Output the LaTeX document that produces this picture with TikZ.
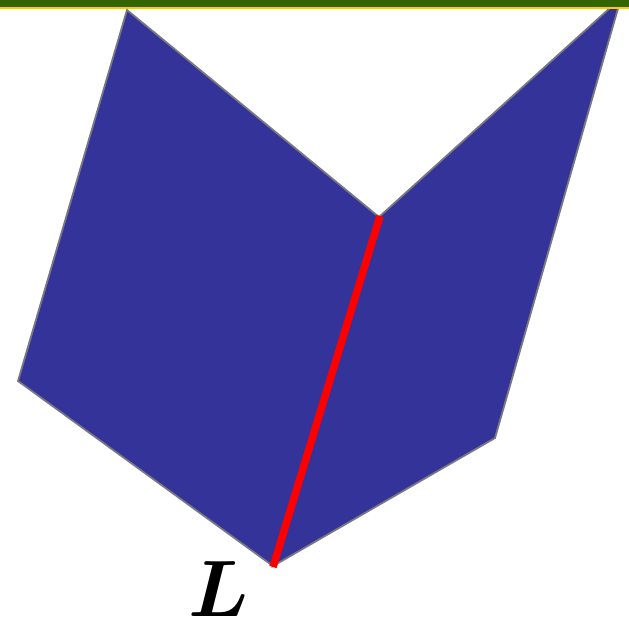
\RequirePackage{fix-cm}
\documentclass[tikz,border=0pt]{standalone}
\usepackage{amsmath}
\usepackage{tikz}
\usetikzlibrary{positioning, calc}
\definecolor{pageFill}{RGB}{51,51,153}
\definecolor{pageBrd}{RGB}{120,120,130}
\definecolor{foldRed}{RGB}{255,0,0}
\definecolor{barGreen}{RGB}{51,102,0}
\definecolor{barYellow}{RGB}{255,204,0}
\tikzset{
  PAGE/.style={fill=pageFill, draw=pageBrd, line width=1.8pt, line join=miter},
  FOLD/.style={draw=foldRed, line width=7.5pt},
  LBL/.style={font=\fontsize{80}{80}\selectfont\bfseries, inner sep=0pt},
}
\begin{document}
\begin{tikzpicture}[x=1pt, y=1pt, yscale=-1]

\useasboundingbox (0,0) rectangle (629,630);

%% corners of the two pages
\coordinate (top)   at (379,217);
\coordinate (bot)   at (273,566);
\coordinate (lTop)  at (127,10);
\coordinate (lOut)  at (18,381);
\coordinate (rTop)  at (621,-2);
\coordinate (rOut)  at (495,438);

%% pages
\draw[PAGE] (lTop) -- (top) -- (bot) -- (lOut) -- cycle;
\draw[PAGE] (top) -- (rTop) -- (rOut) -- (bot) -- cycle;

%% fold line
\draw[FOLD] ($(top)+(1,-1)$) coordinate (fTop) -- ($(bot)+(0,1)$) coordinate (fBot);
\node[LBL] (L) at (219,589) {$\boldsymbol{L}$};

%% title bar
\fill[barGreen]  (0,0) rectangle (629,6.5);
\fill[barYellow] (0,6.5) rectangle (629,9);

\end{tikzpicture}
\end{document}
